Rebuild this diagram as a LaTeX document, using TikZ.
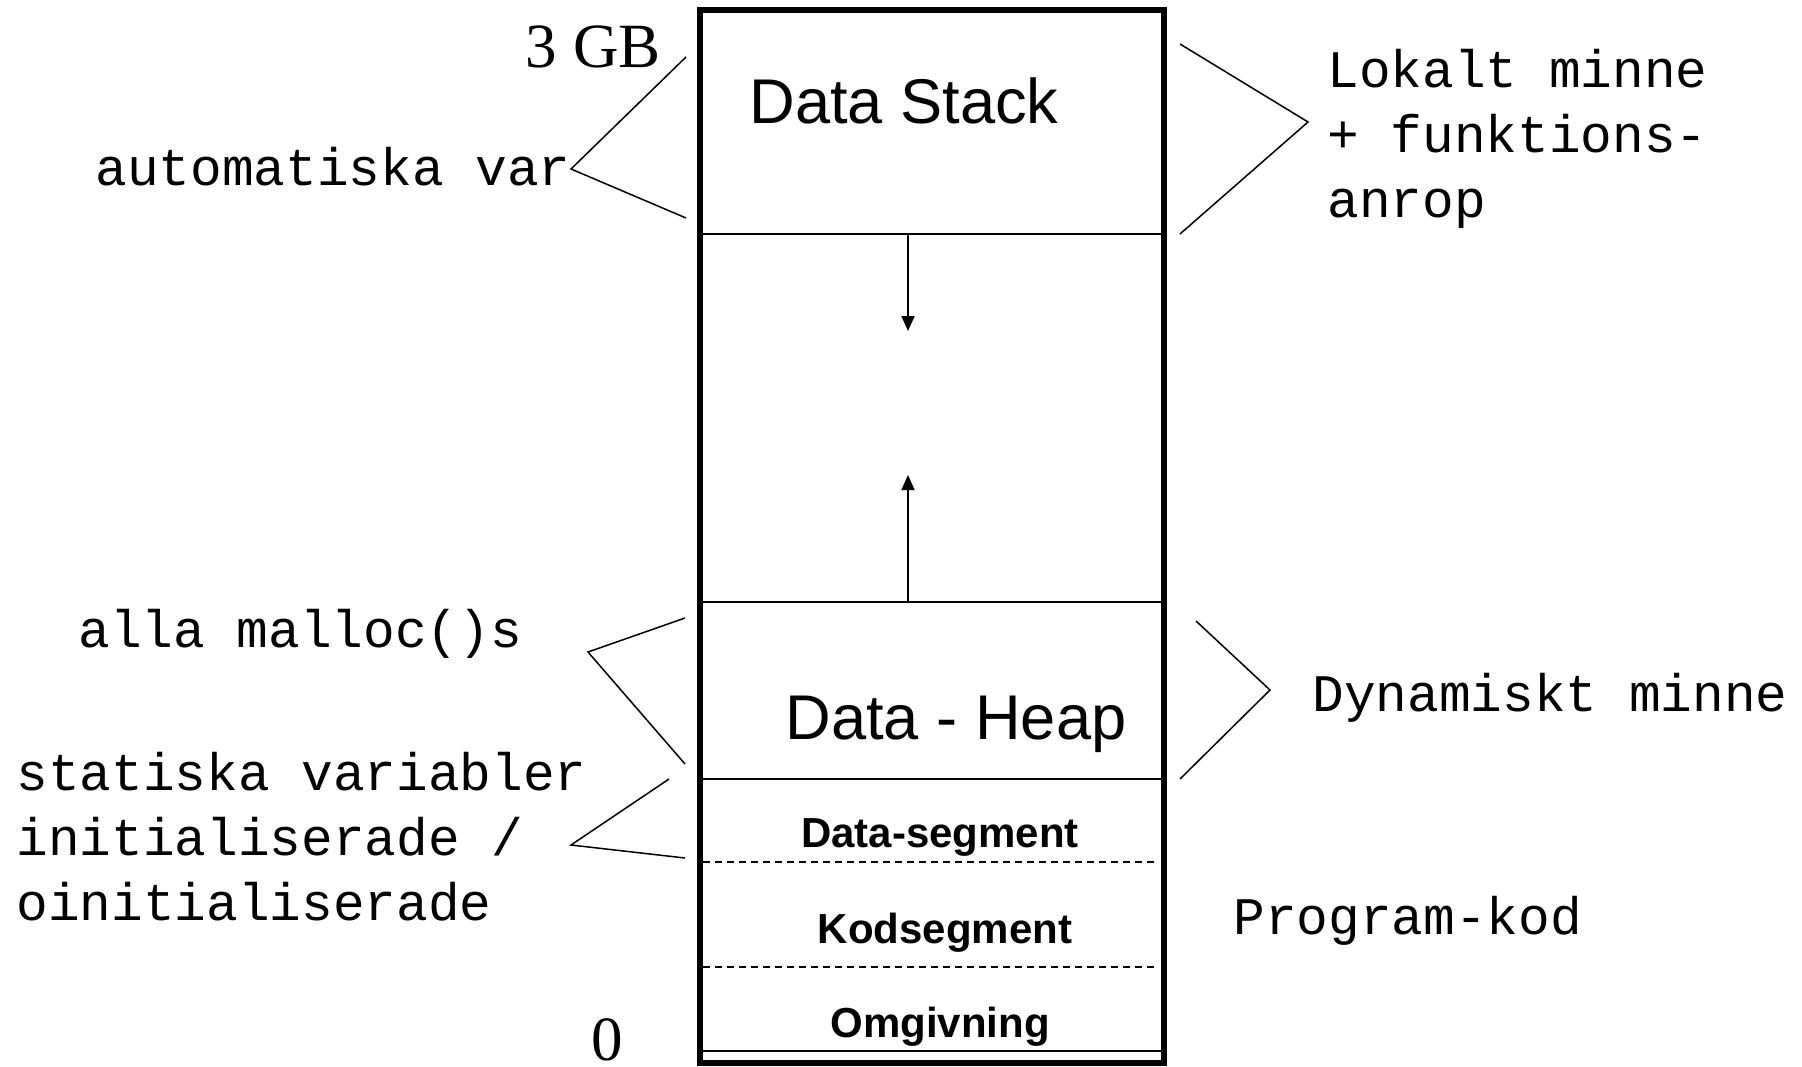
\documentclass[tikz,border=0pt]{standalone}
\usepackage{fontspec}
\setmainfont{Liberation Serif}
\setsansfont{Liberation Sans}
\setmonofont{Liberation Mono}
\usetikzlibrary{arrows.meta}

\tikzset{
  mono/.style={font=\ttfamily\fontsize{26.4}{32.3}\selectfont, inner sep=0pt, align=left},
  bigtext/.style={font=\sffamily\fontsize{31.6}{36}\selectfont, inner sep=0pt},
  segtext/.style={font=\sffamily\bfseries\fontsize{21}{25}\selectfont, inner sep=0pt},
  addr/.style={font=\rmfamily\fontsize{31.5}{36}\selectfont, inner sep=0pt},
  brace/.style={line width=0.75pt},
  growarrow/.style={line width=0.9pt, -{Triangle[length=7.5pt,width=6.5pt]}},
}

\begin{document}
\begin{tikzpicture}[x=0.5pt,y=-0.5pt]
  \useasboundingbox (0,0) rectangle (1802,1066);

  % minnesbilden
  \draw[line width=2.8pt] (700,10) rectangle (1164,1063);
  \begin{scope}[line width=0.8pt]
    \draw (700,234) -- (1164,234);
    \draw (700,602) -- (1164,602);
    \draw (700,779) -- (1164,779);
    \draw[dash pattern=on 3.5pt off 2.5pt] (703,862) -- (1156,862);
    \draw[dash pattern=on 3.5pt off 2.5pt] (703,967) -- (1156,967);
    \draw[line width=1pt] (700,1051) -- (1164,1051);
  \end{scope}

  % stack och heap vaxer mot varandra
  \coordinate (stackbot) at (908,234);
  \coordinate (stackend) at (908,331);
  \coordinate (heaptop) at (908,602);
  \coordinate (heapend) at (908,475);
  \draw[growarrow] (stackbot) -- (stackend);
  \draw[growarrow] (heaptop) -- (heapend);

  \node[addr, anchor=base east] (gb) at (661,67) {3 GB};
  \node[addr, anchor=base] (noll) at (607,1060) {0};

  \node[bigtext, anchor=base] (stack) at (904,123) {Data Stack};
  \node[bigtext, anchor=base] (heap) at (956,739) {Data - Heap};
  \node[segtext, anchor=base] (dataseg) at (940,847) {Data-segment};
  \node[segtext, anchor=base] (kodseg) at (945,943) {Kodsegment};
  \node[segtext, anchor=base] (omgiv) at (940,1037) {Omgivning};

  % kommentarer till vanster
  \node[mono, anchor=base west] (auto) at (95,185) {automatiska var};
  \node[mono, anchor=base west] (malloc) at (78,647) {alla malloc()s};
  \node[mono, anchor=base west] (statisk) at (16,920) {statiska variabler\\initialiserade /\\oinitialiserade};

  % kommentarer till hoger
  \node[mono, anchor=base west] (lokalt) at (1327,217) {Lokalt minne\\+ funktions-\\anrop};
  \node[mono, anchor=base west] (dynamisk) at (1312,711) {Dynamiskt minne};
  \node[mono, anchor=base west] (progkod) at (1233,934) {Program-kod};

  % klamrar
  \coordinate (a1) at (686,57);  \coordinate (a2) at (571,169);  \coordinate (a3) at (686,218);
  \coordinate (b1) at (1180,44); \coordinate (b2) at (1308,122); \coordinate (b3) at (1180,234);
  \coordinate (c1) at (685,618); \coordinate (c2) at (588,652);  \coordinate (c3) at (685,764);
  \coordinate (d1) at (669,779); \coordinate (d2) at (571,845);  \coordinate (d3) at (685,858);
  \coordinate (e1) at (1196,621); \coordinate (e2) at (1270,690); \coordinate (e3) at (1180,779);
  \draw[brace] (a1) -- (a2) -- (a3);
  \draw[brace] (b1) -- (b2) -- (b3);
  \draw[brace] (c1) -- (c2) -- (c3);
  \draw[brace] (d1) -- (d2) -- (d3);
  \draw[brace] (e1) -- (e2) -- (e3);
\end{tikzpicture}
\end{document}
